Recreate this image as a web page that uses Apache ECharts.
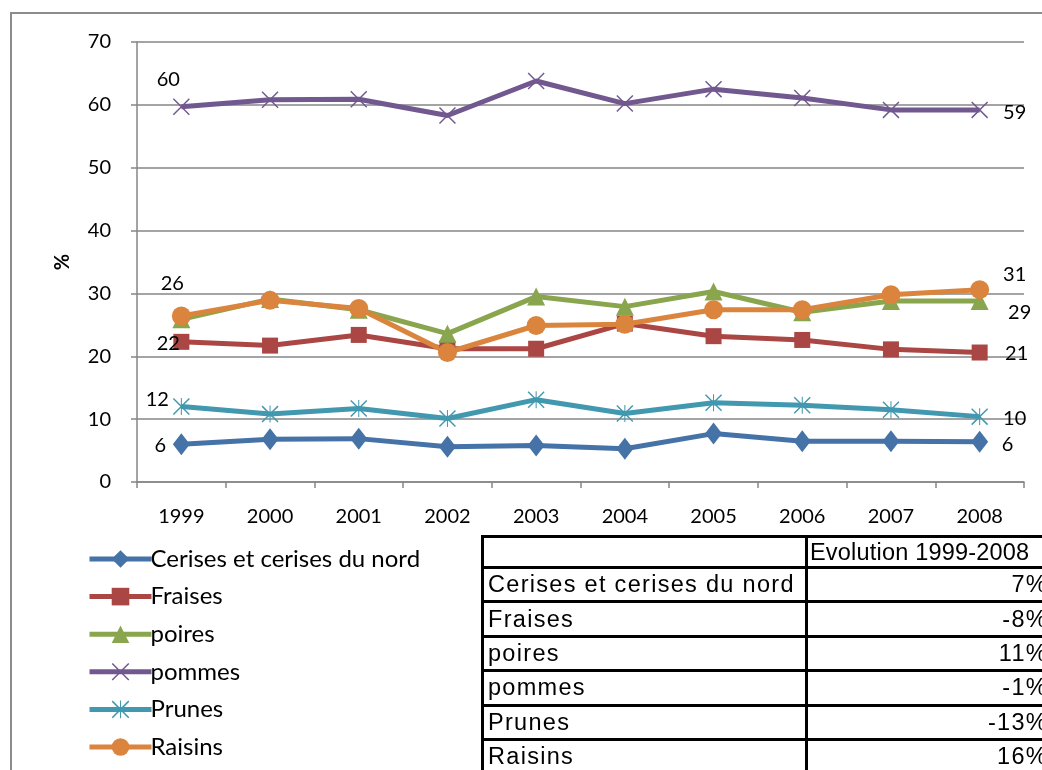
<!DOCTYPE html>
<html>
<head>
<meta charset="utf-8">
<script src="https://cdn.jsdelivr.net/npm/echarts@6/dist/echarts.min.js"></script>
<style>
  body { margin: 0; background: #fff; }
  #wrap { position: relative; width: 1042px; height: 770px; overflow: hidden; }
  #frame { position: absolute; left: 10px; top: 12px; width: 1200px; height: 900px; border: 2px solid #8c8c8c; }
  #chart { position: absolute; left: 0; top: 0; width: 1042px; height: 770px; }
  #evo { position: absolute; left: 481px; top: 535px; width: 572px; border-collapse: collapse; table-layout: fixed;
         font-family: 'Liberation Sans', Arial, sans-serif; font-size: 23.5px; letter-spacing: 1.3px; }
  #evo td { border: 3px solid #000; padding: 0 4px; height: 31.4px; line-height: 31px; white-space: nowrap; overflow: hidden; }
  #evo tr.head td { height: 28px; line-height: 28px; }
  #evo tr.head td.val { text-align: left; letter-spacing: 0.2px; padding-left: 2px; }
  #evo td.name { width: 313px; }
  #evo td.val { text-align: right; padding-right: 2px; }
</style>
</head>
<body>
<div id="wrap">
  <div id="frame"></div>
  <div id="chart"></div>
  <table id="evo"></table>
</div>
<script>
// années
const years = ['1999', '2000', '2001', '2002', '2003', '2004', '2005', '2006', '2007', '2008']
// part en %
const cerises = [6.0, 6.8, 6.9, 5.6, 5.8, 5.3, 7.7, 6.5, 6.5, 6.4]
const fraises = [22.3, 21.7, 23.4, 21.2, 21.2, 25.2, 23.2, 22.6, 21.1, 20.6]
const poires = [25.9, 29.1, 27.4, 23.6, 29.5, 27.9, 30.3, 27.0, 28.8, 28.8]
const pommes = [59.7, 60.8, 60.9, 58.3, 63.8, 60.2, 62.5, 61.1, 59.2, 59.2]
const prunes = [12.0, 10.8, 11.7, 10.1, 13.1, 10.9, 12.6, 12.2, 11.5, 10.4]
const raisins = [26.4, 28.9, 27.6, 20.6, 24.9, 25.1, 27.4, 27.4, 29.8, 30.6]
// tableau évolution
const evoHeader = 'Evolution 1999-2008'
const evoNames = ['Cerises et cerises du nord', 'Fraises', 'poires', 'pommes', 'Prunes', 'Raisins']
const evoValues = ['7%', '-8%', '11%', '-1%', '-13%', '16%']

const FONT = 'Lato, "Open Sans", sans-serif'

// symboles Excel
const xPath = 'path://M0,1.2 L1.2,0 L20,18.8 L18.8,20 Z M18.8,0 L20,1.2 L1.2,20 L0,18.8 Z'
const starPath = 'path://M0,1.2 L1.2,0 L20,18.8 L18.8,20 Z M18.8,0 L20,1.2 L1.2,20 L0,18.8 Z M9.4,0 L10.6,0 L10.6,20 L9.4,20 Z'

// étiquettes premier / dernier point : [dx, dy]
const makeData = (values, first, last) => {
  return values.map((v, i) => {
    let off = null
    if (i === 0 && first) off = first
    if (i === values.length - 1 && last) off = last
    if (!off) return v
    return {
      value: v,
      label: {
        show: true,
        position: 'inside',
        offset: off,
        formatter: (p) => Math.round(p.value),
        color: '#000',
        fontSize: 20,
        fontFamily: FONT
      }
    }
  })
}

const mkSeries = (name, values, color, symbol, size, first, last) => ({
  name: name,
  type: 'line',
  data: makeData(values, first, last),
  symbol: symbol,
  symbolSize: size,
  lineStyle: { color: color, width: 5 },
  itemStyle: { color: color, borderColor: color, borderWidth: 0 },
  emphasis: { disabled: true },
  animation: false
})

const chart = echarts.init(document.getElementById('chart'))

const option = {
  animation: false,
  grid: { left: 137, right: 18, top: 42, bottom: 288 },
  legend: {
    orient: 'vertical',
    left: 82,
    top: 542,
    height: 240,
    itemWidth: 62,
    itemHeight: 22,
    itemGap: 13.6,
    lineStyle: { width: 5 },
    textStyle: { fontSize: 24, color: '#000', fontFamily: FONT, padding: [0, 0, 0, -6] },
    data: ['Cerises et cerises du nord', 'Fraises', 'poires', 'pommes', 'Prunes', 'Raisins']
  },
  xAxis: {
    type: 'category',
    data: years,
    boundaryGap: true,
    axisLine: { lineStyle: { color: '#868686', width: 1.5 } },
    axisTick: { show: true, length: 6, lineStyle: { color: '#868686', width: 1.5 } },
    axisLabel: { color: '#000', fontSize: 20, fontFamily: FONT, margin: 25 }
  },
  yAxis: {
    type: 'value',
    min: 0,
    max: 70,
    interval: 10,
    name: '%',
    nameLocation: 'middle',
    nameRotate: 90,
    nameGap: 64,
    nameTextStyle: { color: '#000', fontSize: 20, fontWeight: 'bold', fontFamily: FONT },
    axisLine: { show: true, lineStyle: { color: '#868686', width: 1.5 } },
    axisTick: { show: true, length: 6, lineStyle: { color: '#868686', width: 1.5 } },
    axisLabel: { color: '#000', fontSize: 20, fontFamily: FONT, margin: 26 },
    splitLine: { lineStyle: { color: '#868686', width: 1.5 } }
  },
  series: [
    mkSeries('Cerises et cerises du nord', cerises, '#4572A7', 'diamond', [17, 22], [-21, 1], [28, 3]),
    mkSeries('Fraises', fraises, '#AA4643', 'rect', 16, [-13, 2], [37, 1]),
    mkSeries('poires', poires, '#89A54E', 'triangle', 18, [-9, -36], [40, 12]),
    mkSeries('pommes', pommes, '#71588F', xPath, 17, [-13, -27], [35, 3]),
    mkSeries('Prunes', prunes, '#4198AF', starPath, 17, [-24, -7], [35, 2]),
    mkSeries('Raisins', raisins, '#DB843D', 'circle', 19, null, [35, -15])
  ]
}
chart.setOption(option)

// tableau
const table = document.getElementById('evo')
let html = '<tr class="head"><td class="name"></td><td class="val">' + evoHeader + '</td></tr>'
evoNames.forEach((n, i) => {
  html += '<tr><td class="name">' + n + '</td><td class="val">' + evoValues[i] + '</td></tr>'
})
table.innerHTML = html
</script>
</body>
</html>
